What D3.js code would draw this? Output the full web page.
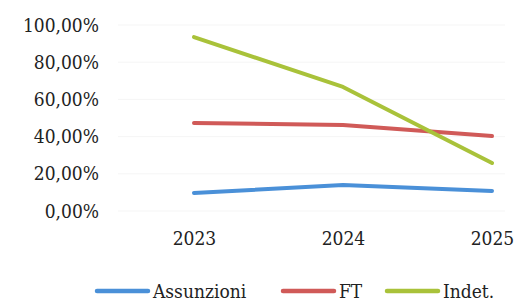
<!DOCTYPE html>
<html>
<head>
<meta charset="utf-8">
<script src="https://cdn.jsdelivr.net/npm/d3@7"></script>
<style>
  body { margin: 0; background: #fff; }
  svg { display: block; }
  text { font-family: "DejaVu Serif", "Liberation Serif", serif; font-stretch: condensed; fill: #222; }
</style>
</head>
<body>
<svg id="chart" width="519" height="303"></svg>
<script>
const years = ['2023', '2024', '2025'];
const yTicks = [0, 20, 40, 60, 80, 100];
const assunzioni = [9.7, 14.0, 10.8];
const ft = [47.3, 46.2, 40.3];
const indet = [93.5, 66.7, 25.8];

const series = [
  { name: 'Assunzioni', values: assunzioni, color: '#4a90d8' },
  { name: 'FT', values: ft, color: '#d05a58' },
  { name: 'Indet.', values: indet, color: '#a9c23a' }
];

const fontSize = 19;
const svg = d3.select('#chart');

const x = d3.scalePoint()
  .domain(years)
  .range([194, 492]);

const y = d3.scaleLinear()
  .domain([0, 100])
  .range([211, 25]);

// faint gridlines (barely visible in the scan)
svg.append('g')
  .selectAll('line')
  .data(yTicks)
  .enter()
  .append('line')
  .attr('x1', 118).attr('x2', 505)
  .attr('y1', d => y(d)).attr('y2', d => y(d))
  .attr('stroke', '#f5f5f5')
  .attr('stroke-width', 1);

// y axis labels
const yAxis = d3.axisLeft(y)
  .tickValues(yTicks)
  .tickSize(0)
  .tickPadding(0)
  .tickFormat(d => d.toFixed(2).replace('.', ',') + '%');

svg.append('g')
  .attr('transform', 'translate(99,0)')
  .call(yAxis)
  .call(g => g.select('.domain').remove())
  .selectAll('text')
  .attr('font-size', fontSize);

// x axis labels
const xAxis = d3.axisBottom(x).tickSize(0).tickPadding(0);

svg.append('g')
  .attr('transform', 'translate(0,231)')
  .call(xAxis)
  .call(g => g.select('.domain').remove())
  .selectAll('text')
  .attr('font-size', fontSize);

// lines
const line = d3.line()
  .x((d, i) => x(years[i]))
  .y(d => y(d));

svg.append('g')
  .selectAll('path')
  .data(series)
  .enter()
  .append('path')
  .attr('d', d => line(d.values))
  .attr('fill', 'none')
  .attr('stroke', d => d.color)
  .attr('stroke-width', 4)
  .attr('stroke-linecap', 'round')
  .attr('stroke-linejoin', 'round');

// legend
const legendX = [97, 283, 387];
const legend = svg.append('g')
  .selectAll('g')
  .data(series)
  .enter()
  .append('g')
  .attr('transform', (d, i) => 'translate(' + legendX[i] + ',291)');

legend.append('line')
  .attr('x1', 0).attr('x2', 51)
  .attr('y1', 0).attr('y2', 0)
  .attr('stroke', d => d.color)
  .attr('stroke-width', 4.5)
  .attr('stroke-linecap', 'round');

legend.append('text')
  .attr('x', 56)
  .attr('y', 7)
  .attr('font-size', fontSize)
  .text(d => d.name);
</script>
</body>
</html>
